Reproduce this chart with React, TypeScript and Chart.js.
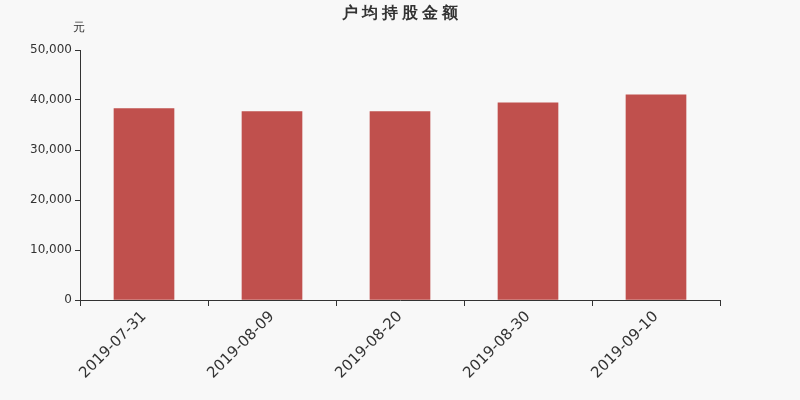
import React, { useEffect, useRef } from "react";
import { Chart, registerables } from "chart.js";

Chart.register(...registerables);

const dates = ["2019-07-31", "2019-08-09", "2019-08-20", "2019-08-30", "2019-09-10"];
const amounts = [38300, 37700, 37700, 39450, 41050];
const titleText = "户均持股金额";
const unitText = "元";

const FONT = "'DejaVu Sans', sans-serif";

// draws the title and the unit above the y axis
const headerPlugin = {
  id: "header",
  afterDraw: (chart: Chart) => {
    const ctx = chart.ctx as any;
    ctx.save();
    ctx.fillStyle = "#333";
    ctx.textAlign = "center";
    ctx.textBaseline = "middle";
    ctx.font = `bold 16px ${FONT}`;
    ctx.letterSpacing = "4px";
    ctx.fillText(titleText, 402, 14);
    ctx.letterSpacing = "0px";
    ctx.font = `12px ${FONT}`;
    ctx.fillText(unitText, 79, 28);
    ctx.restore();
  }
};

const App: React.FC = () => {
  const chartRef = useRef<HTMLCanvasElement | null>(null);
  const chartInstance = useRef<Chart | null>(null);

  useEffect(() => {
    if (!chartRef.current) return;
    if (chartInstance.current) chartInstance.current.destroy();
    const ctx = chartRef.current.getContext("2d");
    if (!ctx) return;

    chartInstance.current = new Chart(ctx, {
      type: "bar",
      data: {
        labels: dates,
        datasets: [
          {
            label: titleText,
            data: amounts,
            backgroundColor: "#c0504d",
            barThickness: 60
          }
        ]
      },
      options: {
        animation: false,
        responsive: false,
        layout: { padding: { top: 50, right: 80, left: 0, bottom: 0 } },
        plugins: {
          legend: { display: false },
          title: { display: false },
          tooltip: { enabled: false }
        },
        scales: {
          x: {
            offset: true,
            afterFit: (scale: any) => {
              scale.height = 100;
            },
            grid: {
              offset: true,
              drawOnChartArea: false,
              tickLength: 6,
              color: "#333"
            },
            border: { color: "#333", width: 1 },
            ticks: {
              color: "#333",
              font: { family: FONT, size: 15 },
              minRotation: 45,
              maxRotation: 45,
              padding: 2
            }
          },
          y: {
            min: 0,
            max: 50000,
            afterFit: (scale: any) => {
              scale.width = 80;
            },
            grid: {
              drawOnChartArea: false,
              tickLength: 5,
              color: "#333"
            },
            border: { color: "#333", width: 1 },
            ticks: {
              stepSize: 10000,
              color: "#333",
              font: { family: FONT, size: 12 },
              padding: 3,
              callback: (value) => Number(value).toLocaleString("en-US")
            }
          }
        }
      },
      plugins: [headerPlugin]
    });

    return () => {
      if (chartInstance.current) {
        chartInstance.current.destroy();
        chartInstance.current = null;
      }
    };
  }, []);

  return (
    <div
      style={{
        position: "fixed",
        left: 0,
        top: 0,
        width: 800,
        height: 400,
        background: "#f8f8f8"
      }}
    >
      <canvas ref={chartRef} width={800} height={400}></canvas>
    </div>
  );
};

export default App;
